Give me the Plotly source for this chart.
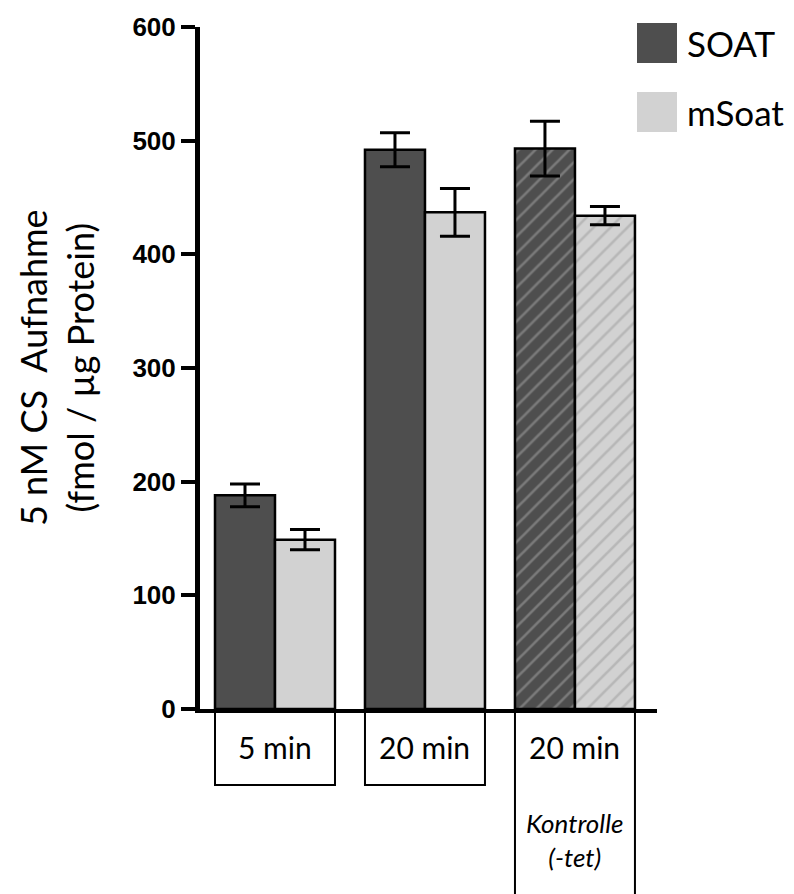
import plotly.graph_objects as go

categories = ["5 min", "20 min", "20 min Kontrolle"]
cat_labels = ["5 min", "20 min", "20 min"]
soat_values = [188, 492, 493]
soat_err = [10, 15, 24]
msoat_values = [149, 437, 434]
msoat_err = [9, 21, 8]
hatch = ["", "", "/"]
y_ticks = [0, 100, 200, 300, 400, 500, 600]

W, H = 794, 894
L, R, T, B = 200, 137, 27, 185
pw, ph = W - L - R, H - T - B

def px(x):
    return (x - L) / pw

def py(y):
    return (H - B - y) / ph

fig = go.Figure()
fig.add_trace(go.Bar(
    x=categories, y=soat_values, name="SOAT",
    marker=dict(color="#4e4e4e", line=dict(color="black", width=2.5),
                pattern=dict(shape=hatch, fgcolor="#a6a6a6", size=12, solidity=0.22)),
    error_y=dict(type="data", array=soat_err, color="black", thickness=3, width=15),
    showlegend=False,
))
fig.add_trace(go.Bar(
    x=categories, y=msoat_values, name="mSoat",
    marker=dict(color="#d2d2d2", line=dict(color="black", width=2.5),
                pattern=dict(shape=hatch, fgcolor="#9c9c9c", size=12, solidity=0.22)),
    error_y=dict(type="data", array=msoat_err, color="black", thickness=3, width=15),
    showlegend=False,
))

fig.update_layout(
    width=W, height=H,
    margin=dict(l=L, r=R, t=T, b=B),
    plot_bgcolor="white", paper_bgcolor="white",
    barmode="group", bargap=0.2, bargroupgap=0,
    xaxis=dict(range=[-0.5, 2.547], showticklabels=False, ticks="",
               showline=True, linecolor="black", linewidth=4, showgrid=False,
               zeroline=False),
    yaxis=dict(range=[0, 600], tickvals=y_ticks, ticks="outside", ticklen=14,
               tickwidth=4, tickcolor="black", showline=True, linecolor="black",
               linewidth=5, showgrid=False, zeroline=False,
               tickfont=dict(family="Liberation Sans", size=26, color="black", weight="bold")),
    font=dict(family="Lato", color="black"),
)

# category label boxes and labels
for i, (cat, lab) in enumerate(zip(categories, cat_labels)):
    y_bottom = py(785) if i < 2 else py(910)
    fig.add_shape(type="rect", xref="x", yref="paper", x0=i - 0.4, x1=i + 0.4,
                  y0=y_bottom, y1=0, line=dict(color="black", width=2), layer="below")
    fig.add_annotation(x=cat, xref="x", y=py(747), yref="paper", text=lab,
                       showarrow=False, font=dict(family="Lato", size=30, color="black"),
                       xanchor="center", yanchor="middle")
fig.add_annotation(x=categories[2], xref="x", y=py(840), yref="paper",
                   text="<i>Kontrolle<br>(-tet)</i>", showarrow=False,
                   font=dict(family="Lato", size=26, color="black"),
                   xanchor="center", yanchor="middle")

# y axis title
fig.add_annotation(x=px(56), xref="paper", y=py(368), yref="paper",
                   text="5 nM CS  Aufnahme<br>(fmol / µg Protein)", textangle=-90,
                   showarrow=False, font=dict(family="Lato", size=36, color="black"),
                   xanchor="center", yanchor="middle")

# legend
for name, col, y0, y1 in [("SOAT", "#4e4e4e", 23, 63), ("mSoat", "#d2d2d2", 92, 132)]:
    fig.add_shape(type="rect", xref="paper", yref="paper", x0=px(637), x1=px(677),
                  y0=py(y1), y1=py(y0), fillcolor=col, line=dict(width=0))
    fig.add_annotation(x=px(685), xref="paper", y=py((y0 + y1) / 2), yref="paper",
                       text=name, showarrow=False, xanchor="left", yanchor="middle",
                       font=dict(family="Lato", size=35, color="black"))

fig.write_html("out.html", config={"displayModeBar": False},
               post_script="document.body.style.margin='0';")
